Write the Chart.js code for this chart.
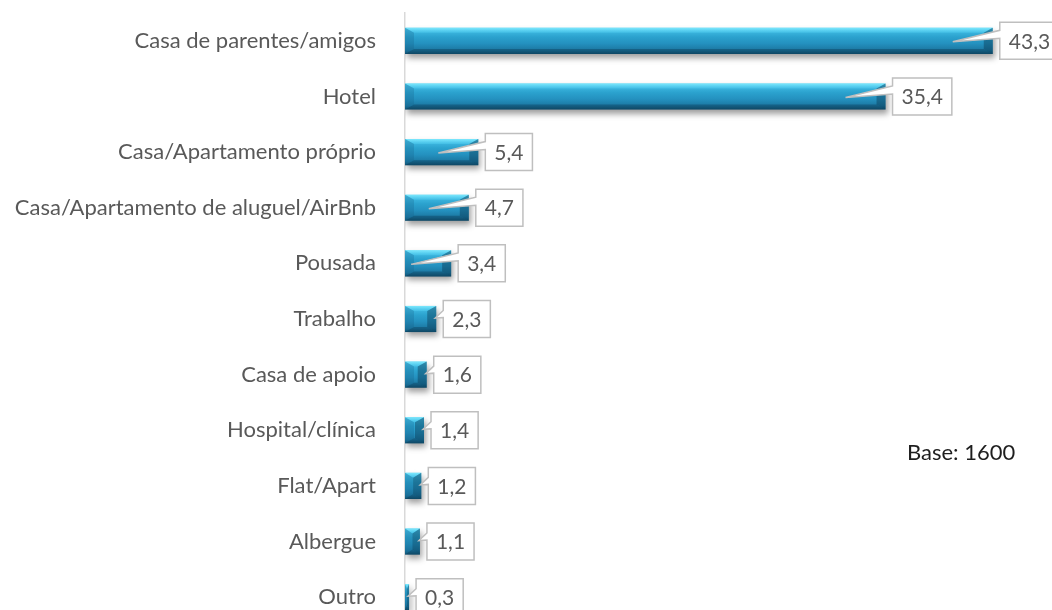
<!DOCTYPE html>
<html>
<head>
<meta charset="utf-8">
<script src="https://cdn.jsdelivr.net/npm/chart.js@4.4.0/dist/chart.umd.min.js"></script>
<style>
  html, body { margin: 0; padding: 0; background: #ffffff; overflow: hidden; width: 1052px; height: 610px; }
  canvas { display: block; }
</style>
</head>
<body>
<canvas id="c" width="1052" height="625"></canvas>
<script>
const categories = [
  'Casa de parentes/amigos',
  'Hotel',
  'Casa/Apartamento próprio',
  'Casa/Apartamento de aluguel/AirBnb',
  'Pousada',
  'Trabalho',
  'Casa de apoio',
  'Hospital/clínica',
  'Flat/Apart',
  'Albergue',
  'Outro'
];
const values = [43.3, 35.4, 5.4, 4.7, 3.4, 2.3, 1.6, 1.4, 1.2, 1.1, 0.3];
const valueLabels = ['43,3', '35,4', '5,4', '4,7', '3,4', '2,3', '1,6', '1,4', '1,2', '1,1', '0,3'];
const noteText = 'Base: 1600';

const FONT_FAMILY = 'Lato, "Open Sans", "DejaVu Sans", sans-serif';
const LABEL_COLOR = '#595959';
const BAR_PCT = 0.47;

function barGradient(context) {
  const chart = context.chart;
  const yS = chart.scales && chart.scales.y;
  if (!yS || context.dataIndex === undefined) return '#2a9ecb';
  const c = yS.getPixelForValue(context.dataIndex);
  const step = Math.abs(yS.getPixelForValue(1) - yS.getPixelForValue(0));
  const h = step * BAR_PCT;
  const top = c - h / 2, bot = c + h / 2;
  if (!isFinite(top) || !isFinite(bot) || bot <= top) return '#2a9ecb';
  const g = chart.ctx.createLinearGradient(0, top, 0, bot);
  g.addColorStop(0, '#55cdee');
  g.addColorStop(0.12, '#3fb9e2');
  g.addColorStop(0.35, '#2ba2ce');
  g.addColorStop(0.6, '#2491bf');
  g.addColorStop(0.85, '#1c78a2');
  g.addColorStop(1, '#125473');
  return g;
}

const bevelPlugin = {
  id: 'bevelBars',
  beforeDatasetsDraw(chart) {
    const ctx = chart.ctx;
    ctx.save();
    ctx.shadowColor = 'rgba(0,0,0,0.38)';
    ctx.shadowBlur = 6;
    ctx.shadowOffsetX = 2;
    ctx.shadowOffsetY = 4;
  },
  afterDatasetsDraw(chart) {
    const ctx = chart.ctx;
    ctx.restore();
    const meta = chart.getDatasetMeta(0);
    meta.data.forEach(el => {
      const x0 = el.base, x1 = el.x;
      const y0 = el.y - el.height / 2, y1 = el.y + el.height / 2;
      const w = x1 - x0, h = y1 - y0;
      const bt = Math.min(5, h / 2);
      const bs = Math.min(9, w / 2);
      ctx.save();
      let g = ctx.createLinearGradient(0, y0, 0, y0 + bt);
      g.addColorStop(0, 'rgba(130,235,255,0.9)');
      g.addColorStop(1, 'rgba(80,205,240,0.45)');
      ctx.fillStyle = g;
      ctx.beginPath();
      ctx.moveTo(x0, y0); ctx.lineTo(x1, y0);
      ctx.lineTo(x1 - bs, y0 + bt); ctx.lineTo(x0 + bs, y0 + bt);
      ctx.closePath(); ctx.fill();
      ctx.fillStyle = 'rgba(8,50,75,0.35)';
      ctx.beginPath();
      ctx.moveTo(x0, y1); ctx.lineTo(x1, y1);
      ctx.lineTo(x1 - bs, y1 - bt); ctx.lineTo(x0 + bs, y1 - bt);
      ctx.closePath(); ctx.fill();
      ctx.fillStyle = 'rgba(20,90,130,0.25)';
      ctx.beginPath();
      ctx.moveTo(x0, y0); ctx.lineTo(x0 + bs, y0 + bt);
      ctx.lineTo(x0 + bs, y1 - bt); ctx.lineTo(x0, y1);
      ctx.closePath(); ctx.fill();
      ctx.fillStyle = 'rgba(8,50,75,0.4)';
      ctx.beginPath();
      ctx.moveTo(x1, y0); ctx.lineTo(x1 - bs, y0 + bt);
      ctx.lineTo(x1 - bs, y1 - bt); ctx.lineTo(x1, y1);
      ctx.closePath(); ctx.fill();
      ctx.restore();
    });

    ctx.save();
    ctx.font = '21px ' + FONT_FAMILY;
    meta.data.forEach((el, i) => {
      const label = valueLabels[i];
      const tw = ctx.measureText(label).width;
      const bw = tw + 18, bh = 37;
      const bx = el.x + 7, by = el.y - bh / 2;
      const w = el.x - el.base;
      let tipX, tipY, wb1, wb2;
      if (w > 44) {
        tipX = el.x - 40; tipY = el.y + 1; wb1 = by + 8; wb2 = by + 16;
      } else {
        tipX = el.x - 1; tipY = el.y - 1; wb1 = by + 10; wb2 = by + 17;
      }
      ctx.beginPath();
      ctx.moveTo(bx, by);
      ctx.lineTo(bx + bw, by);
      ctx.lineTo(bx + bw, by + bh);
      ctx.lineTo(bx, by + bh);
      ctx.lineTo(bx, wb2);
      ctx.lineTo(tipX, tipY);
      ctx.lineTo(bx, wb1);
      ctx.closePath();
      ctx.fillStyle = '#ffffff';
      ctx.fill();
      ctx.lineWidth = 1.5;
      ctx.strokeStyle = '#bfbfbf';
      ctx.lineJoin = 'miter';
      ctx.stroke();
      ctx.fillStyle = LABEL_COLOR;
      ctx.textAlign = 'center';
      ctx.textBaseline = 'middle';
      ctx.fillText(label, bx + bw / 2, el.y + 1);
    });
    ctx.restore();

    ctx.save();
    ctx.font = '22px ' + FONT_FAMILY;
    ctx.fillStyle = '#1e1e1e';
    ctx.textAlign = 'left';
    ctx.textBaseline = 'middle';
    ctx.fillText(noteText, 907, 453);
    ctx.restore();
  }
};

new Chart(document.getElementById('c'), {
  type: 'bar',
  data: {
    labels: categories,
    datasets: [{
      data: values,
      backgroundColor: barGradient,
      borderWidth: 0,
      categoryPercentage: 1.0,
      barPercentage: BAR_PCT
    }]
  },
  options: {
    indexAxis: 'y',
    responsive: false,
    animation: false,
    layout: { padding: { top: 13, right: 9, bottom: 0, left: 0 } },
    plugins: { legend: { display: false }, tooltip: { enabled: false } },
    scales: {
      x: { display: false, min: 0, max: 47 },
      y: {
        afterFit(scale) {
          scale.width = 405;
          scale.paddingTop = 0;
          scale.paddingBottom = 0;
        },
        grid: { display: false, drawTicks: false },
        border: { display: true, color: '#d9d9d9', width: 1.5 },
        ticks: {
          padding: 29,
          color: LABEL_COLOR,
          font: { family: FONT_FAMILY, size: 22 }
        }
      }
    }
  },
  plugins: [bevelPlugin]
});
</script>
</body>
</html>
